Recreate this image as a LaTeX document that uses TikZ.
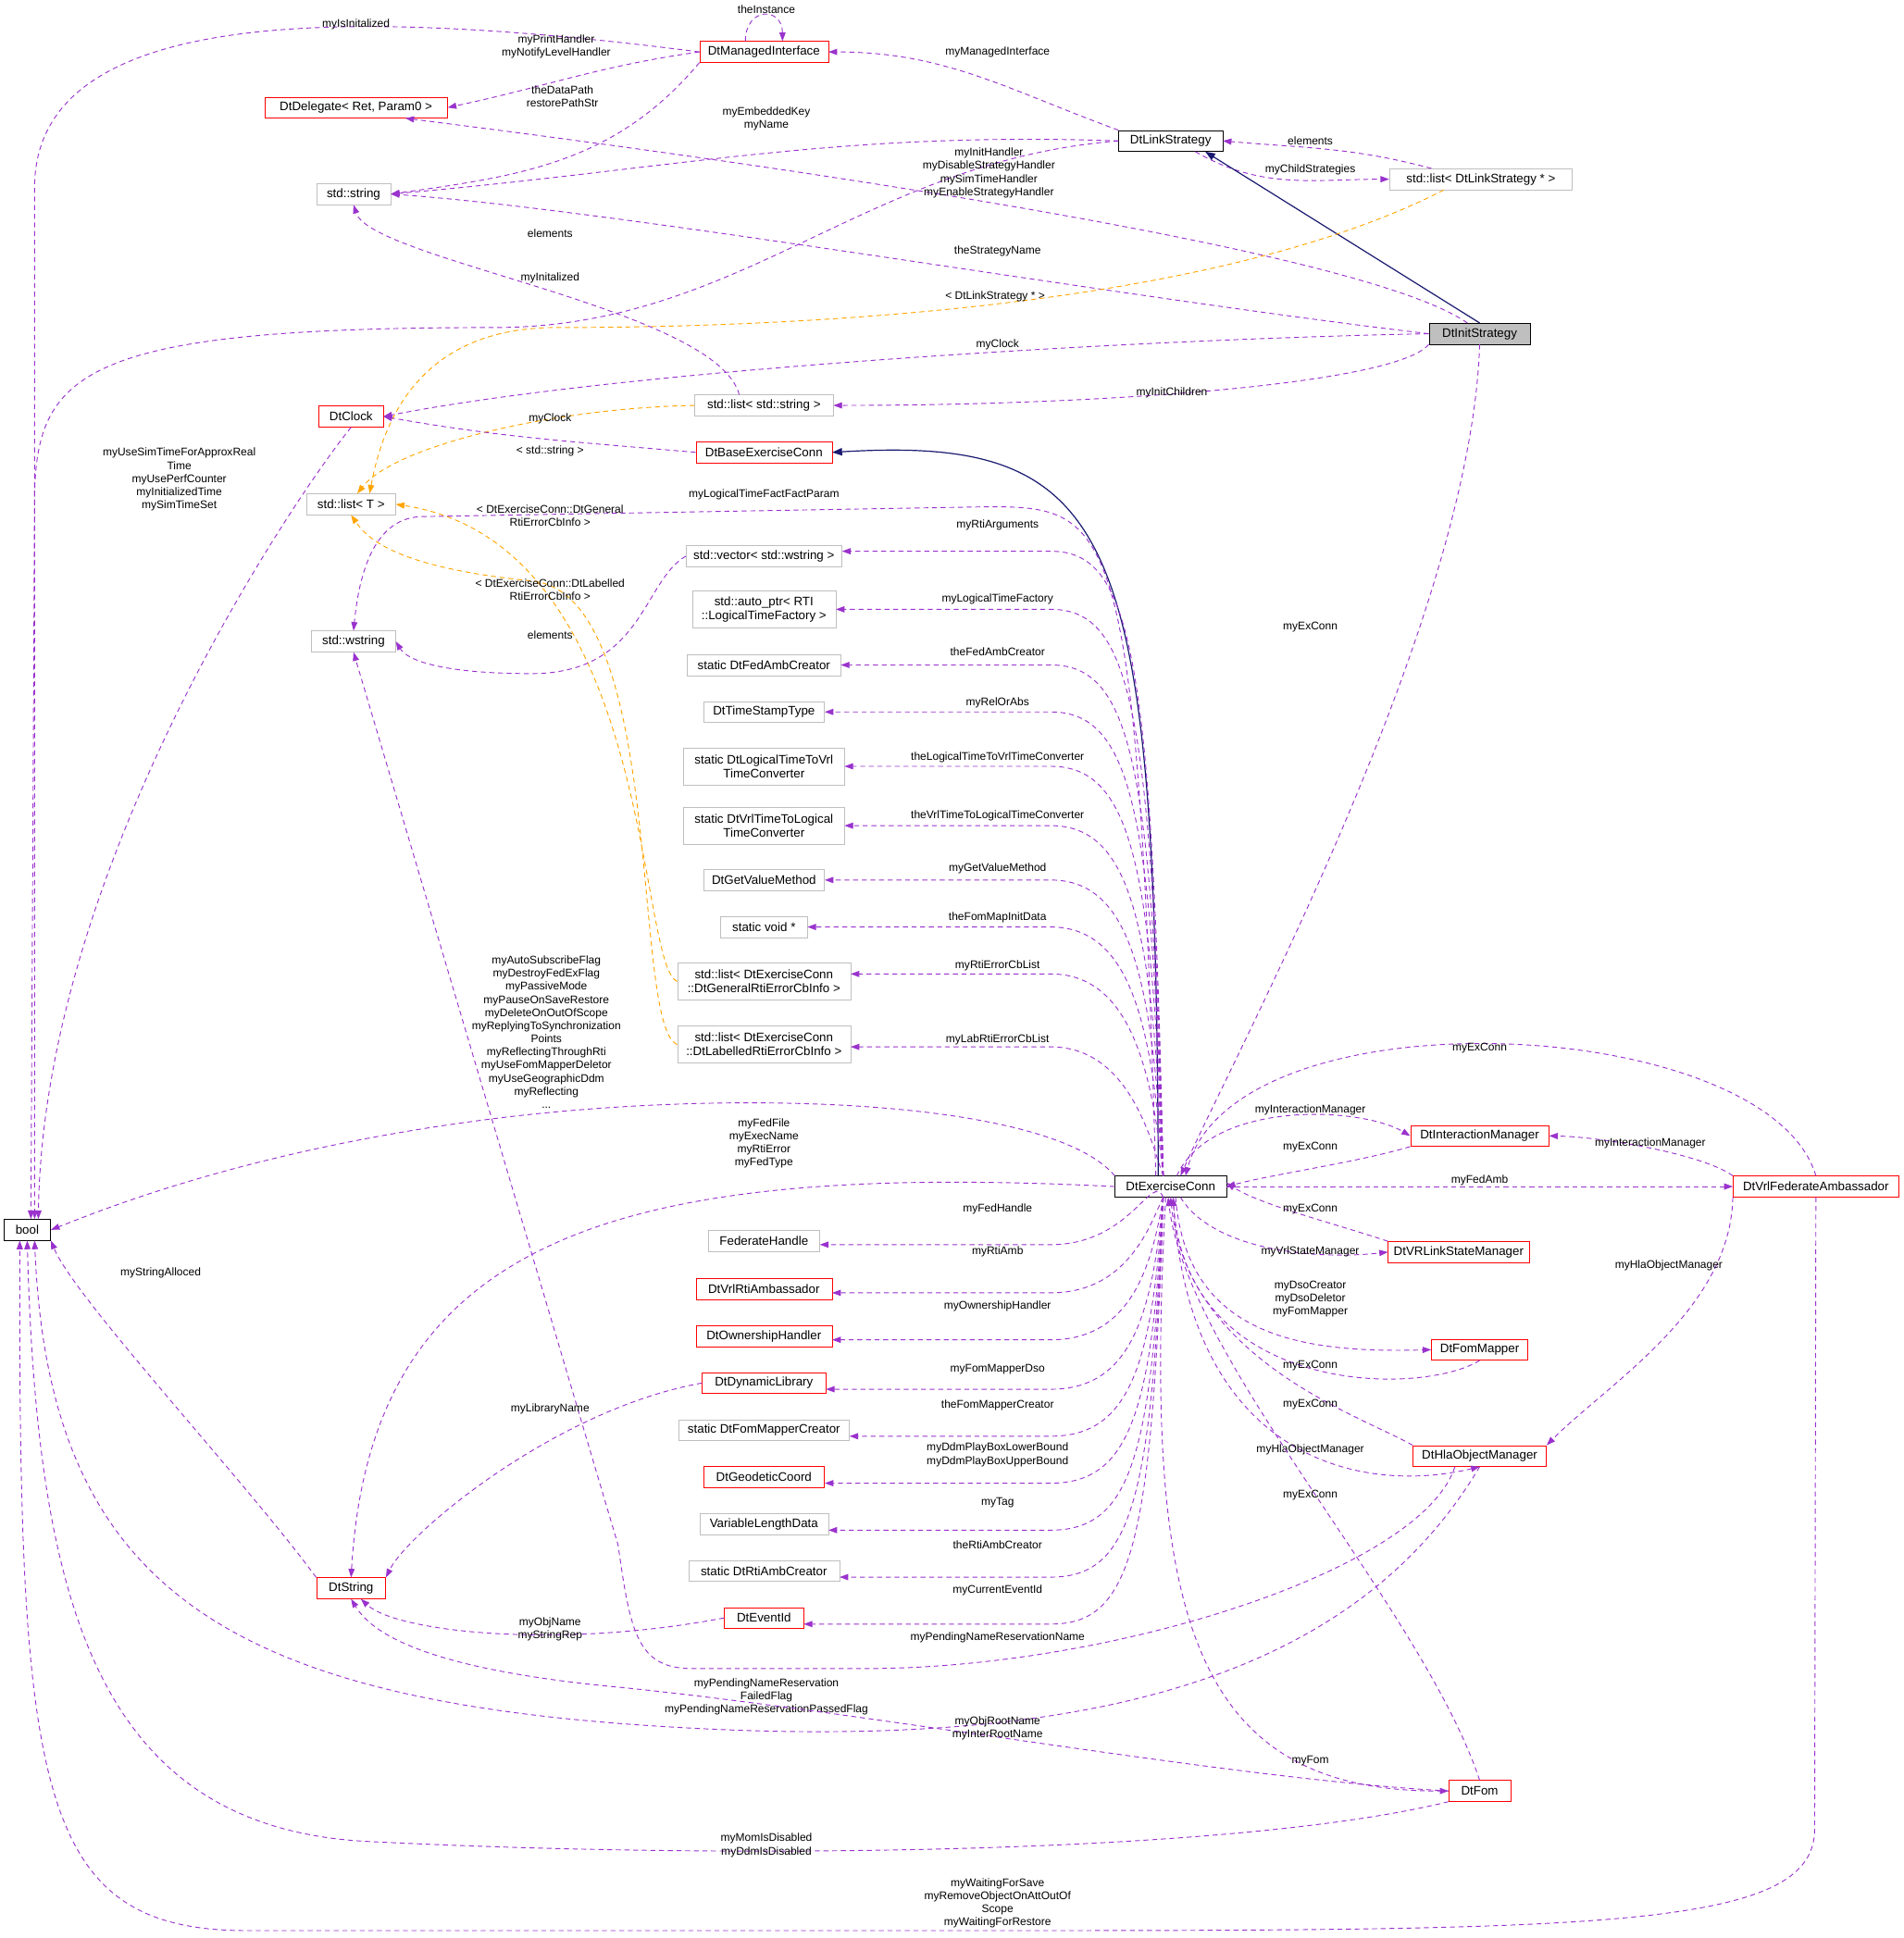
\documentclass[tikz,border=0pt]{standalone}
\usepackage{fontspec}
\setmainfont{Liberation Sans}
\usetikzlibrary{arrows.meta}
\definecolor{dpur}{HTML}{9A32CD}
\definecolor{dora}{HTML}{FFA500}
\definecolor{dnav}{HTML}{191970}
\definecolor{dgry}{HTML}{BFBFBF}
\begin{document}
\begin{tikzpicture}[x=1pt,y=-1pt,
 box/.style={draw, minimum height=17, inner sep=2, font=\fontsize{10}{11}\selectfont, align=center},
 rb/.style={box, draw=red},
 gb/.style={box, draw=dgry},
 kb/.style={box, draw=black},
 dep/.style={draw=dpur, dash pattern=on 4pt off 3pt, -{Triangle[length=7,width=5]}, line width=0.7},
 tpl/.style={draw=dora, dash pattern=on 4pt off 3pt, -{Triangle[length=7,width=5]}, line width=0.7},
 inh/.style={draw=dnav, -{Triangle[length=8,width=6]}, line width=0.9},
 lbl/.style={font=\fontsize{9}{10.6}\selectfont, align=center, inner sep=0}]
\useasboundingbox (0,0) rectangle (1540,1568);
% nodes
\node[rb, minimum width=104] (mi) at (618,42) {DtManagedInterface};
\node[rb, minimum width=148] (dl) at (288,87) {DtDelegate< Ret, Param0 >};
\node[gb, minimum width=60] (str) at (286,157) {std::string};
\node[kb, minimum width=84] (ls) at (947,114) {DtLinkStrategy};
\node[gb, minimum width=148] (lls) at (1198,145) {std::list< DtLinkStrategy * >};
\node[kb, fill=dgry, minimum width=82] (is) at (1197,270) {DtInitStrategy};
\node[rb, minimum width=52] (clk) at (284,337) {DtClock};
\node[gb, minimum width=112] (lss) at (618,328) {std::list< std::string >};
\node[rb, minimum width=110] (bec) at (618,366) {DtBaseExerciseConn};
\node[gb, minimum width=72] (lt) at (284,408) {std::list< T >};
\node[gb, minimum width=126] (vws) at (618,450) {std::vector< std::wstring >};
\node[gb, minimum width=116, minimum height=30] (ap) at (618,493) {std::auto\_ptr< RTI\\::LogicalTimeFactory >};
\node[gb, minimum width=68] (ws) at (286,519) {std::wstring};
\node[gb, minimum width=124] (fac) at (618,538) {static DtFedAmbCreator};
\node[gb, minimum width=98] (tst) at (618,576) {DtTimeStampType};
\node[gb, minimum width=130, minimum height=30] (l2v) at (618,620) {static DtLogicalTimeToVrl\\TimeConverter};
\node[gb, minimum width=130, minimum height=30] (v2l) at (618,668) {static DtVrlTimeToLogical\\TimeConverter};
\node[gb, minimum width=98] (gvm) at (618,712) {DtGetValueMethod};
\node[gb, minimum width=70] (sv) at (618,750) {static void *};
\node[gb, minimum width=140, minimum height=30] (lgen) at (618,794) {std::list< DtExerciseConn\\::DtGeneralRtiErrorCbInfo >};
\node[gb, minimum width=140, minimum height=30] (llab) at (618,845) {std::list< DtExerciseConn\\::DtLabelledRtiErrorCbInfo >};
\node[kb, minimum width=90] (ec) at (947,960) {DtExerciseConn};
\node[kb, minimum width=38] (bool) at (22,995) {bool};
\node[gb, minimum width=90] (fh) at (618,1004) {FederateHandle};
\node[rb, minimum width=110] (vra) at (618,1043) {DtVrlRtiAmbassador};
\node[rb, minimum width=110] (oh) at (618,1081) {DtOwnershipHandler};
\node[rb, minimum width=100] (dyn) at (618,1119) {DtDynamicLibrary};
\node[gb, minimum width=138] (fmc) at (618,1157) {static DtFomMapperCreator};
\node[rb, minimum width=98] (geo) at (618,1195) {DtGeodeticCoord};
\node[gb, minimum width=104] (vld) at (618,1233) {VariableLengthData};
\node[gb, minimum width=122] (rac) at (618,1271) {static DtRtiAmbCreator};
\node[rb, minimum width=64] (eid) at (618,1309) {DtEventId};
\node[rb, minimum width=56] (dstr) at (284,1285) {DtString};
\node[rb, minimum width=112] (im) at (1197,919) {DtInteractionManager};
\node[rb, minimum width=134] (vfa) at (1469,960) {DtVrlFederateAmbassador};
\node[rb, minimum width=114] (vsm) at (1180,1013) {DtVRLinkStateManager};
\node[rb, minimum width=78] (fm) at (1197,1092) {DtFomMapper};
\node[rb, minimum width=108] (hom) at (1197,1178) {DtHlaObjectManager};
\node[rb, minimum width=50] (fom) at (1197,1449) {DtFom};
% top edges
\draw[dep] ([xshift=-15]mi.north) .. controls +(0,-28) and +(0,-28) .. ([xshift=15]mi.north);
\node[lbl] at (620,8) {theInstance};
\draw[dep] (mi.west) .. controls (300,8) and (30,0) .. (28,150) -- ([xshift=6]bool.north);
\node[lbl] at (288,20) {myIsInitalized};
\draw[dep] (mi.west) to[out=188,in=12] (dl.east);
\node[lbl] at (450,38) {myPrintHandler\\myNotifyLevelHandler};
\draw[dep] (mi.south west) to[out=230,in=8] (str.east);
\node[lbl] at (455,78) {theDataPath\\restorePathStr};
\draw[dep] (ls.north west) to[out=160,in=0] (mi.east);
\node[lbl] at (807,42) {myManagedInterface};
\draw[dep] (ls.west) to[out=178,in=5] (str.east);
\node[lbl] at (620,96) {myEmbeddedKey\\myName};
\draw[dep] (ls.west) .. controls (700,130) and (600,265) .. (400,265) .. controls (70,265) and (30,300) .. (28,400) -- ([xshift=3]bool.north);
\node[lbl] at (445,225) {myInitalized};
\draw[dep] ([xshift=20]ls.south) to[out=-30,in=180] (lls.west);
\node[lbl] at (1060,137) {myChildStrategies};
\draw[dep] ([xshift=-40]lls.north) to[out=165,in=-5] (ls.east);
\node[lbl] at (1060,114) {elements};
\draw[inh] (is.north) -- ([xshift=28]ls.south);
\draw[dep] ([xshift=-10]is.north) .. controls (1100,200) and (600,130) .. ([xshift=40]dl.south);
\node[lbl] at (800,140) {myInitHandler\\myDisableStrategyHandler\\mySimTimeHandler\\myEnableStrategyHandler};
\draw[dep] (is.west) .. controls (900,240) and (500,170) .. (str.east);
\node[lbl] at (807,203) {theStrategyName};
\draw[dep] (is.west) .. controls (900,275) and (500,300) .. (clk.east);
\node[lbl] at (807,279) {myClock};
\draw[dep] (is.south west) .. controls (1130,310) and (900,328) .. (lss.east);
\node[lbl] at (948,318) {myInitChildren};
\draw[dep] (is.south) .. controls (1190,500) and (1000,850) .. ([xshift=8]ec.north);
\node[lbl] at (1060,507) {myExConn};
\draw[tpl] ([xshift=-30]lls.south) .. controls (1000,240) and (700,265) .. (450,265) .. controls (340,265) and (310,340) .. ([xshift=15]lt.north);
\node[lbl] at (805,240) {< DtLinkStrategy * >};
\draw[dep] ([xshift=-20]lss.north) .. controls (580,250) and (300,210) .. (str.south);
\node[lbl] at (445,189) {elements};
\draw[tpl] (lss.west) .. controls (450,330) and (320,360) .. ([xshift=5]lt.north);
\node[lbl] at (445,365) {< std::string >};
\draw[dep] (bec.west) to[out=175,in=-10] (clk.east);
\node[lbl] at (445,339) {myClock};
\draw[inh] ([xshift=-10]ec.north) .. controls (935,430) and (905,352) .. (bec.east);
\draw[dep] (clk.south) .. controls (240,400) and (35,700) .. ([xshift=9]bool.north);
\node[lbl] at (145,388) {myUseSimTimeForApproxReal\\Time\\myUsePerfCounter\\myInitializedTime\\mySimTimeSet};
\draw[dep] ([xshift=-12]ec.north) .. controls (920,420) and (900,410) .. (800,410) -- (340,418) .. controls (300,420) and (290,470) .. (ws.north);
\node[lbl] at (618,400) {myLogicalTimeFactFactParam};
\draw[tpl] (lgen.west) .. controls (515,780) and (530,440) .. (lt.east);
\node[lbl] at (445,417) {< DtExerciseConn::DtGeneral\\RtiErrorCbInfo >};
\draw[tpl] (llab.west) .. controls (510,830) and (540,480) .. (430,470) .. controls (330,460) and (300,440) .. (lt.south);
\node[lbl] at (445,477) {< DtExerciseConn::DtLabelled\\RtiErrorCbInfo >};
\draw[dep] (vws.west) .. controls (520,470) and (520,545) .. (430,545) .. controls (360,545) and (330,535) .. (ws.east);
\node[lbl] at (445,514) {elements};
% fan above
\foreach \t/\l/\ly/\ty in {vws/myRtiArguments/425/446, ap/myLogicalTimeFactory/485/493, fac/theFedAmbCreator/527/538, tst/myRelOrAbs/569/576, l2v/theLogicalTimeToVrlTimeConverter/613/620, v2l/theVrlTimeToLogicalTimeConverter/660/668, gvm/myGetValueMethod/703/712, sv/theFomMapInitData/742/750, lgen/myRtiErrorCbList/781/788, llab/myLabRtiErrorCbList/841/847}{
 \draw[dep] ([xshift=-6]ec.north) .. controls (932,\ty+80) and (915,\ty) .. (850,\ty) -- (\t.east |- 0,\ty);
 \node[lbl] at (807,\ly) {\l};
}
\foreach \t/\l/\ly/\ty in {fh/myFedHandle/978/1007, vra/myRtiAmb/1013/1046, oh/myOwnershipHandler/1057/1084, dyn/myFomMapperDso/1108/1124, fmc/theFomMapperCreator/1137/1162, geo/{myDdmPlayBoxLowerBound\\myDdmPlayBoxUpperBound}/1177/1200, vld/myTag/1216/1238, rac/theRtiAmbCreator/1250/1276, eid/myCurrentEventId/1287/1314}{
 \draw[dep] ([xshift=-6]ec.south) .. controls (932,\ty-60) and (915,\ty) .. (850,\ty) -- (\t.east |- 0,\ty);
 \node[lbl] at (807,\ly) {\l};
}
\draw[dep] (ec.north west) .. controls (850,890) and (600,880) .. (400,905) .. controls (200,930) and (80,980) .. (bool.east);
\node[lbl] at (442,835) {myAutoSubscribeFlag\\myDestroyFedExFlag\\myPassiveMode\\myPauseOnSaveRestore\\myDeleteOnOutOfScope\\myReplyingToSynchronization\\Points\\myReflectingThroughRti\\myUseFomMapperDeletor\\myUseGeographicDdm\\myReflecting\\...};
\draw[dep] (ec.west) .. controls (500,940) and (300,1000) .. (dstr.north);
\node[lbl] at (618,925) {myFedFile\\myExecName\\myRtiError\\myFedType};
% right side
\draw[dep] ([xshift=5]ec.north) .. controls (980,890) and (1100,895) .. (im.west);
\node[lbl] at (1060,898) {myInteractionManager};
\draw[dep] (im.south west) .. controls (1100,940) and (1030,950) .. (ec.east);
\node[lbl] at (1060,928) {myExConn};
\draw[dep] (ec.east) -- (vfa.west);
\node[lbl] at (1197,955) {myFedAmb};
\draw[dep] (vfa.north) .. controls (1430,820) and (1000,800) .. ([xshift=12]ec.north);
\node[lbl] at (1197,848) {myExConn};
\draw[dep] (vfa.north west) .. controls (1380,935) and (1300,920) .. (im.east);
\node[lbl] at (1335,925) {myInteractionManager};
\draw[dep] (vsm.north west) .. controls (1080,990) and (1020,975) .. ([yshift=3]ec.east);
\node[lbl] at (1060,978) {myExConn};
\draw[dep] ([xshift=8]ec.south) .. controls (980,1010) and (1060,1020) .. (vsm.west);
\node[lbl] at (1060,1013) {myVrlStateManager};
\draw[dep] ([xshift=4]ec.south) .. controls (960,1080) and (1050,1095) .. (fm.west);
\node[lbl] at (1060,1051) {myDsoCreator\\myDsoDeletor\\myFomMapper};
\draw[dep] (fm.south) .. controls (1150,1130) and (960,1130) .. ([xshift=2]ec.south);
\node[lbl] at (1060,1105) {myExConn};
\draw[dep] (hom.north west) .. controls (1100,1145) and (960,1100) .. (ec.south);
\node[lbl] at (1060,1136) {myExConn};
\draw[dep] ([xshift=2]ec.south) .. controls (960,1180) and (1100,1210) .. (hom.south);
\node[lbl] at (1060,1173) {myHlaObjectManager};
\draw[dep] (vfa.south west) .. controls (1400,1060) and (1300,1120) .. (hom.north east);
\node[lbl] at (1350,1024) {myHlaObjectManager};
\draw[dep] (fom.north) .. controls (1150,1300) and (960,1100) .. ([xshift=-2]ec.south);
\node[lbl] at (1060,1210) {myExConn};
\draw[dep] ([xshift=-4]ec.south) .. controls (925,1300) and (960,1450) .. (fom.west);
\node[lbl] at (1060,1425) {myFom};
% bottom long edges
\draw[dep] ([xshift=-20]hom.south) .. controls (1150,1270) and (900,1350) .. (700,1350) -- (560,1350) .. controls (515,1350) and (510,1320) .. (500,1250) -- (ws.south);
\node[lbl] at (807,1325) {myPendingNameReservationName};
\draw[dep] (hom.south) .. controls (1100,1350) and (900,1410) .. (600,1400) .. controls (200,1385) and (40,1300) .. ([xshift=6]bool.south);
\node[lbl] at (620,1373) {myPendingNameReservation\\FailedFlag\\myPendingNameReservationPassedFlag};
\draw[dep] (fom.west) .. controls (1000,1440) and (700,1385) .. (500,1365) .. controls (340,1350) and (300,1320) .. (dstr.south);
\node[lbl] at (807,1398) {myObjRootName\\myInterRootName};
\draw[dep] (fom.south west) .. controls (1000,1500) and (600,1505) .. (300,1490) .. controls (80,1480) and (30,1300) .. (bool.south);
\node[lbl] at (620,1493) {myMomIsDisabled\\myDdmIsDisabled};
\draw[dep] (vfa.south) -- (1468,1480) .. controls (1468,1560) and (1300,1562) .. (800,1562) -- (200,1562) .. controls (30,1562) and (15,1450) .. ([xshift=-6]bool.south);
\node[lbl] at (807,1540) {myWaitingForSave\\myRemoveObjectOnAttOutOf\\Scope\\myWaitingForRestore};
\draw[dep] (eid.west) .. controls (450,1335) and (320,1320) .. ([xshift=8]dstr.south);
\node[lbl] at (445,1318) {myObjName\\myStringRep};
\draw[dep] (dyn.west) .. controls (450,1140) and (330,1240) .. (dstr.north east);
\node[lbl] at (445,1140) {myLibraryName};
\draw[dep] (dstr.north west) .. controls (200,1200) and (60,1050) .. (bool.south east);
\node[lbl] at (130,1030) {myStringAlloced};
\end{tikzpicture}
\end{document}
